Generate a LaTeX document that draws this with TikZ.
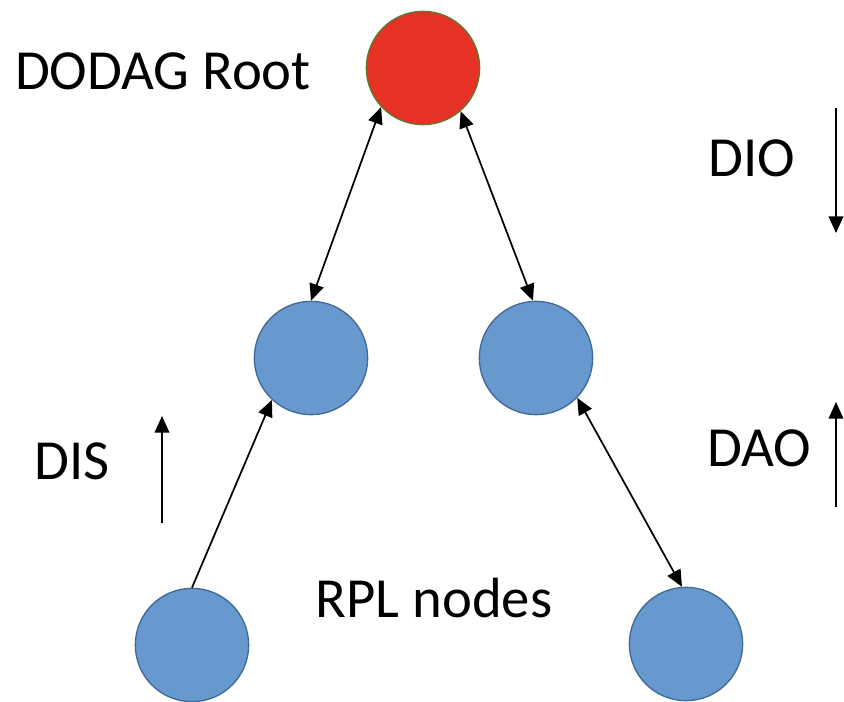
\documentclass[tikz,border=0pt]{standalone}
\usepackage{fontspec}
\setmainfont{Carlito}
\usetikzlibrary{arrows.meta}

\tikzset{every picture/.style={line width=0.75pt}}
\definecolor{rootred}{RGB}{229,50,36}
\definecolor{rootrim}{RGB}{96,120,50}
\definecolor{nodeblue}{RGB}{103,153,207}
\definecolor{nodeedge}{RGB}{65,105,150}
\tikzset{
  rplnode/.style={circle, draw=nodeedge, fill=nodeblue, line width=1pt, inner sep=0pt, minimum size=85pt},
  rootnode/.style={rplnode, draw=rootrim, fill=rootred},
  msglink/.style={line width=1.3pt, {Triangle[length=12.5pt,width=11pt]}-{Triangle[length=12.5pt,width=11pt]}},
  uplink/.style={line width=1.3pt, -{Triangle[length=12.5pt,width=11pt]}},
  lbl/.style={anchor=base, inner sep=0pt, font=\fontsize{42.5}{50}\selectfont}
}

\begin{document}
\begin{tikzpicture}[x=0.75pt,y=0.75pt,yscale=-1,xscale=1]
	\useasboundingbox (0,0) rectangle (844,702); %set diagram to 844 x 702

	%Shape: Circle [root]
	\node [rootnode] (root) at (423,68) {};
	%Shape: Circle [middle row]
	\node [rplnode] (ml) at (311,358) {};
	\node [rplnode] (mr) at (536,358) {};
	%Shape: Circle [bottom row]
	\node [rplnode] (bl) at (192,645) {};
	\node [rplnode] (br) at (686,644) {};

	%Straight Lines [links]
	\draw [msglink] (root.223) -- (ml.north) ;
	\draw [msglink] (root.311) -- (mr.93) ;
	\draw [uplink] (bl.north) -- (ml.227) ;
	\draw [msglink] (mr.316) -- (br.94) ;

	%Straight Lines [DIO]
	\coordinate (dio-a) at (836,108) ;
	\coordinate (dio-b) at (836,233) ;
	\draw [uplink] (dio-a) -- (dio-b) ;
	%Straight Lines [DIS]
	\coordinate (dis-a) at (162,523) ;
	\coordinate (dis-b) at (162,416) ;
	\draw [uplink] (dis-a) -- (dis-b) ;
	%Straight Lines [DAO]
	\coordinate (dao-a) at (836,507) ;
	\coordinate (dao-b) at (836,402) ;
	\draw [uplink] (dao-a) -- (dao-b) ;

	% Text Node
	\node [lbl] (rootlbl) at (163,90) {DODAG Root};
	% Text Node
	\node [lbl] (diolbl) at (752,177) {DIO};
	% Text Node
	\node [lbl] (dislbl) at (72,480) {DIS};
	% Text Node
	\node [lbl] (daolbl) at (759,467) {DAO};
	% Text Node
	\node [lbl] (rpllbl) at (434,618) {RPL nodes};

\end{tikzpicture}
\end{document}
